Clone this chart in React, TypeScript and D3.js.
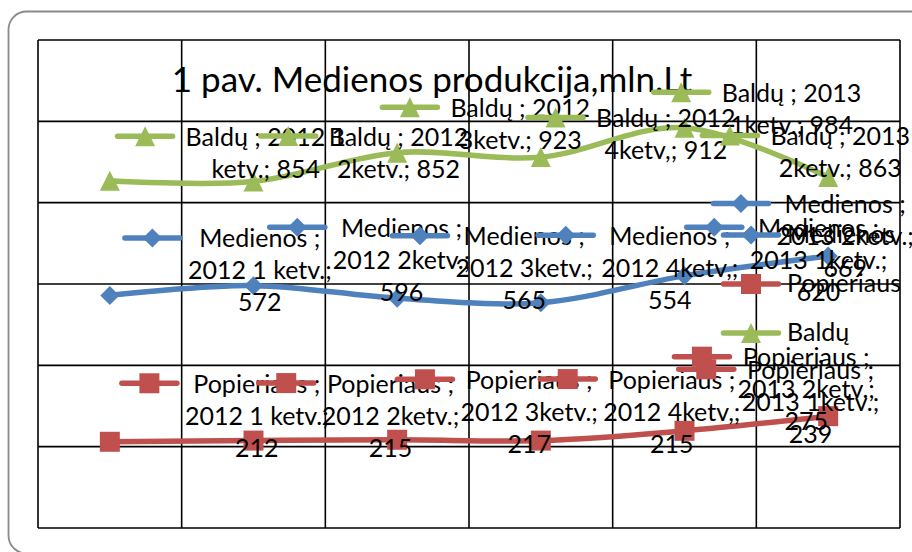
import React, { useEffect, useRef } from 'react';
import * as d3 from 'd3';

const categories = ['2012 1 ketv.', '2012 2ketv.', '2012 3ketv.', '2012 4ketv,', '2013 1ketv.', '2013 2ketv.'];
const seriesNames = ['Medienos', 'Popieriaus', 'Baldų'];
const medienos = [572, 596, 565, 554, 620, 669];
const popieriaus = [212, 215, 217, 215, 239, 275];
const baldu = [854, 852, 923, 912, 984, 863];
const yTicks = [0, 200, 400, 600, 800, 1000, 1200];
const title = '1 pav. Medienos produkcija,mln.Lt';

// where the data labels ended up, relative to their point (px)
const medienosShift = [[150, -48], [148, -49], [127, -53], [129, -58], [134, -39], [17, -43]];
const popieriausShift = [[147, -49], [137, -48], [132, -51], [131, -52], [126, -52], [-22, -50]];
const balduShift = [[156, -35], [145, -36], [123, -36], [125, -30], [107, -26], [12, -32]];

const FONT = 'Lato, "Open Sans", sans-serif';

const markerPath = (shape) => {
	if (shape === 'triangle') return 'M0,-10L10,10L-10,10Z';
	if (shape === 'diamond') return 'M0,-9.5L9.5,0L0,9.5L-9.5,0Z';
	return 'M-10,-10H10V10H-10Z';
};

const drawChart = (svgEl) => {
	const svg = d3.select(svgEl);
	svg.selectAll('*').remove();

	const plot = { left: 38, right: 900, top: 40, bottom: 528 };
	const x = d3.scaleBand().domain(categories).range([plot.left, plot.right]);
	const y = d3.scaleLinear().domain([0, 1200]).range([plot.bottom, plot.top]);
	const cx = (c) => x(c) + x.bandwidth() / 2;

	const series = [
		{ name: seriesNames[0], values: medienos, color: '#4F81BD', shape: 'diamond', shift: medienosShift, gap: 8 },
		{ name: seriesNames[1], values: popieriaus, color: '#C0504D', shape: 'square', shift: popieriausShift, gap: 8 },
		{ name: seriesNames[2], values: baldu, color: '#9BBB59', shape: 'triangle', shift: balduShift, gap: 13 },
	];

	// chart frame
	svg.append('rect')
		.attr('x', 8.5).attr('y', 11.5)
		.attr('width', 930).attr('height', 542)
		.attr('rx', 18)
		.attr('fill', 'white')
		.attr('stroke', '#8a8a8a')
		.attr('stroke-width', 1.8);

	// grid
	const grid = svg.append('g').attr('stroke', '#000').attr('stroke-width', 1.6);
	grid.selectAll('line.h').data(yTicks).enter().append('line')
		.attr('x1', plot.left).attr('x2', plot.right)
		.attr('y1', (d) => y(d)).attr('y2', (d) => y(d));
	const bounds = categories.map((c) => x(c)).concat([plot.right]);
	grid.selectAll('line.v').data(bounds).enter().append('line')
		.attr('x1', (d) => d).attr('x2', (d) => d)
		.attr('y1', plot.top).attr('y2', plot.bottom);

	// title
	svg.append('text')
		.attr('x', 432).attr('y', 92)
		.attr('text-anchor', 'middle')
		.attr('font-family', FONT)
		.attr('font-size', 35)
		.text(title);

	const line = d3.line()
		.x((d, i) => cx(categories[i]))
		.y((d) => y(d))
		.curve(d3.curveCardinal.tension(0));

	series.forEach((s) => {
		svg.append('path')
			.attr('d', line(s.values))
			.attr('fill', 'none')
			.attr('stroke', s.color)
			.attr('stroke-width', 5.5)
			.attr('stroke-linecap', 'round')
			.attr('stroke-linejoin', 'round');
		svg.selectAll(null).data(s.values).enter().append('path')
			.attr('d', markerPath(s.shape))
			.attr('fill', s.color)
			.attr('transform', (d, i) => `translate(${ cx(categories[i]) },${ y(d) })`);
	});

	const drawKey = (g, s, kx, ky) => {
		const key = g.append('g').attr('transform', `translate(${ kx },${ ky })`);
		key.append('line')
			.attr('x1', -27.5).attr('x2', 27.5)
			.attr('stroke', s.color)
			.attr('stroke-width', 5.5)
			.attr('stroke-linecap', 'round');
		key.append('path').attr('d', markerPath(s.shape)).attr('fill', s.color);
	};

	// data labels with legend keys
	const labels = svg.append('g');
	series.forEach((s) => {
		s.values.forEach((v, i) => {
			const px = cx(categories[i]);
			const py = y(v);
			const tx = px + s.shift[i][0];
			const ty = py + s.shift[i][1];
			const g = labels.append('g');
			const text = g.append('text')
				.attr('font-family', FONT)
				.attr('font-size', 25)
				.attr('text-anchor', 'middle');
			const words = `${ s.name } ; ${ categories[i] }; ${ v }`.split(' ');
			const probe = text.append('tspan');
			const lines = [];
			let cur = '';
			words.forEach((w) => {
				const test = cur ? `${ cur } ${ w }` : w;
				probe.text(test);
				if (cur && probe.node().getComputedTextLength() > 165) {
					lines.push(cur);
					cur = w;
				} else {
					cur = test;
				}
			});
			lines.push(cur);
			probe.remove();
			let maxW = 0;
			lines.forEach((l, j) => {
				const t = text.append('tspan').attr('x', tx).attr('y', ty + j * 32).text(l);
				maxW = Math.max(maxW, t.node().getComputedTextLength());
			});
			drawKey(g, s, tx - maxW / 2 - s.gap - 27.5, ty - 9.5);
			g.raise();
			text.raise();
		});
	});

	// legend
	const legend = svg.append('g');
	series.forEach((s, i) => {
		const ly = 235 + i * 49;
		drawKey(legend, s, 751, ly);
		legend.append('text')
			.attr('x', 787).attr('y', ly + 8)
			.attr('font-family', FONT)
			.attr('font-size', 25)
			.text(s.name);
	});
};

const App = () => {
	const ref = useRef(null);

	useEffect(() => {
		document.body.style.margin = '0';
		drawChart(ref.current);
	}, []);

	return (
		<svg ref={ ref } width={ 912 } height={ 552 } style={ { display: 'block' } }/>
	);
};

export default App;
